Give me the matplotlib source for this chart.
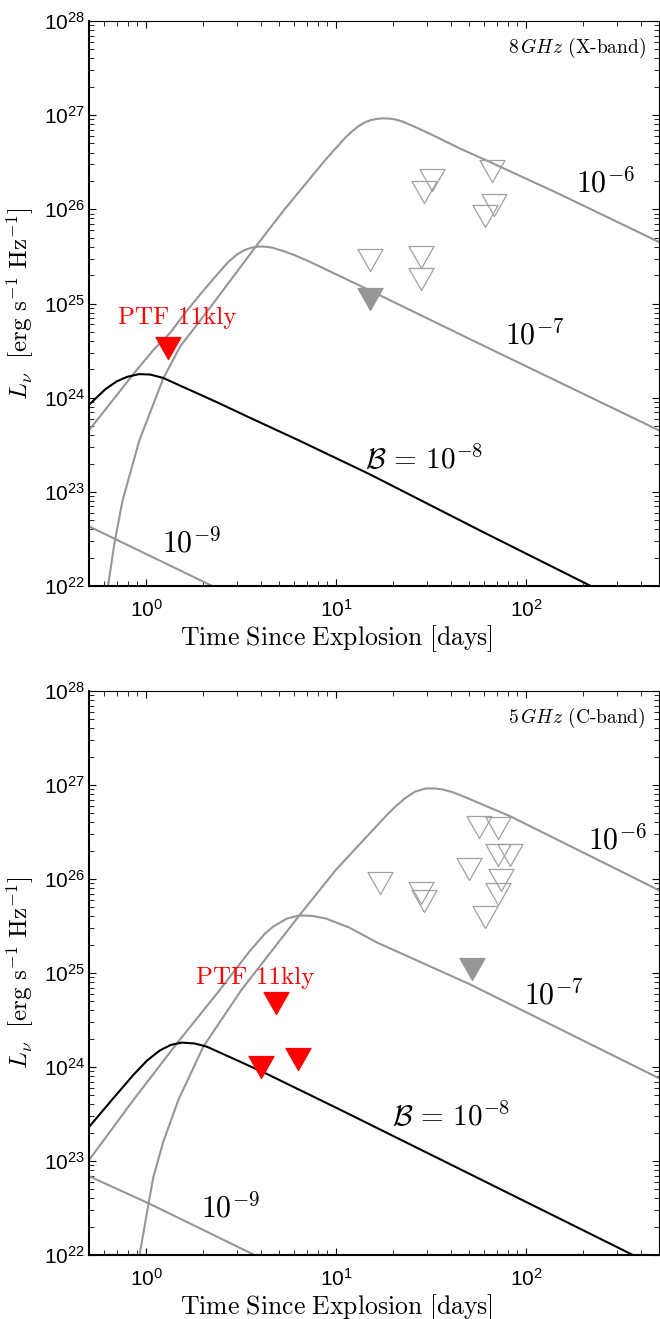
import numpy as np
import matplotlib
matplotlib.use('Agg')
import matplotlib.pyplot as plt
from matplotlib.path import Path
from matplotlib.ticker import LogLocator

plt.rcParams['font.family'] = ['Liberation Sans', 'DejaVu Sans']
plt.rcParams['mathtext.fontset'] = 'cm'

### -------------------- 8 GHz (X-band) panel -------------------- ###
x_b6_t = [0.63, 0.68, 0.75, 0.92, 1.23, 1.51, 2.12, 3.87, 5.35, 8.83, 11.2, 12.3, 13.2, 14.2,
          15.2, 16.3, 17.5, 19.0, 20.5, 22.2, 26.0, 31.9, 44, 63, 150, 500]
x_b6_L = [1e22, 2.8e22, 8e22, 3.5e23, 1.6e24, 3.5e24, 8.5e24, 4.3e25, 1.0e26, 3.4e26, 5.8e26,
          6.9e26, 7.7e26, 8.4e26, 8.85e26, 9.1e26, 9.25e26, 9.2e26, 9.0e26, 8.6e26, 7.5e26,
          6.2e26, 4.5e26, 3.25e26, 1.45e26, 4.5e25]
x_b7_t = [0.5, 0.86, 1.09, 1.34, 1.63, 2.0, 2.4, 2.7, 3.0, 3.3, 3.6, 3.9, 4.2, 4.6, 5.24,
          6.0, 7.2, 15, 53, 500]
x_b7_L = [4.5e23, 1.8e24, 3.2e24, 4.9e24, 8.3e24, 1.37e25, 2.1e25, 2.75e25, 3.3e25, 3.7e25,
          3.92e25, 4.02e25, 4.02e25, 3.92e25, 3.62e25, 3.28e25, 2.8e25, 1.38e25, 4.0e24, 4.5e23]
x_b8_t = [0.5, 0.61, 0.7, 0.79, 0.92, 1.05, 1.23, 1.5, 2.0, 2.4, 3.5, 6.4, 14.9, 60, 219]
x_b8_L = [8.4e23, 1.23e24, 1.49e24, 1.66e24, 1.78e24, 1.76e24, 1.62e24, 1.35e24, 1.04e24,
          8.8e23, 6.15e23, 3.5e23, 1.55e23, 3.7e22, 1e22]
x_b9_t = [0.5, 2.23]
x_b9_L = [4.3e22, 1e22]

x_open_t = [31.9, 29.0, 65.8, 67.7, 60.8, 15.0, 28.1, 28.1]
x_open_L = [2.04e26, 1.52e26, 2.57e26, 1.12e26, 8.5e25, 2.88e25, 3.1e25, 1.8e25]
x_fill_t = [15.0]
x_fill_L = [1.11e25]
x_ptf_t = [1.30]
x_ptf_L = [3.4e24]

### -------------------- 5 GHz (C-band) panel -------------------- ###
c_b6_t = [0.923, 1.03, 1.09, 1.23, 1.48, 2.0, 3.17, 6.4, 9.96, 18.3, 20.5, 23, 26, 29.6, 33,
          36, 41, 48, 60, 81.6, 500]
c_b6_L = [1e22, 3.55e22, 6.7e22, 1.6e23, 4.5e23, 1.65e24, 6.6e24, 4.1e25, 1.25e26, 4.7e26,
          5.9e26, 7.2e26, 8.5e26, 9.2e26, 9.2e26, 9.0e26, 8.4e26, 7.4e26, 6.1e26, 4.7e26, 7.6e25]
c_b7_t = [0.5, 0.859, 1.45, 2.44, 3.5, 4.2, 4.64, 5.5, 6.4, 7.5, 8.83, 11.7, 16.5, 50.5, 500]
c_b7_L = [1.02e23, 4.5e23, 1.78e24, 6.6e24, 1.7e25, 2.6e25, 3.1e25, 3.8e25, 4.1e25, 4.05e25,
          3.8e25, 3.05e25, 2.1e25, 7.6e24, 7.6e23]
c_b8_t = [0.5, 0.674, 0.859, 1.01, 1.18, 1.35, 1.54, 1.8, 2.08, 2.98, 4.29, 10.4, 40, 365]
c_b8_L = [2.3e23, 4.7e23, 8.3e23, 1.17e24, 1.5e24, 1.72e24, 1.82e24, 1.78e24, 1.65e24,
          1.19e24, 8.5e23, 3.55e23, 9.2e22, 1e22]
c_b9_t = [0.5, 1.03, 3.72]
c_b9_L = [6.9e22, 3.55e22, 1e22]

c_open_t = [56.7, 70.8, 70.8, 82.5, 49.9, 73.8, 70.8, 60.8, 17.0, 27.9, 28.9]
c_open_L = [3.6e26, 3.5e26, 1.82e26, 1.82e26, 1.28e26, 9.8e25, 7.0e25, 3.9e25, 9.1e25, 7.1e25, 5.8e25]
c_fill_t = [51.7]
c_fill_L = [1.11e25]
c_ptf_t = [4.8, 4.0, 6.27]
c_ptf_L = [4.8e24, 1.0e24, 1.23e24]

# label positions (data coords)
x_lab = {'b6': (262, 1.9e26), 'b7': (111, 4.6e24), 'b8': (29.2, 2.16e23),
         'b9': (1.73, 2.9e22), 'ptf': (1.45, 7.0e24)}
c_lab = {'b6': (301, 2.63e26), 'b7': (139, 5.8e24), 'b8': (40.1, 2.95e23),
         'b9': (2.79, 3.14e22), 'ptf': (3.76, 8.95e24)}

gray = '#969696'
tri = Path([(-1, 0.88), (1, 0.88), (0, -0.88), (-1, 0.88)], closed=True)


def panel(ax, b6, b7, b8, b9, opn, fil, ptf, lab, band):
	ax.set_xscale('log')
	ax.set_yscale('log')
	ax.plot(b6[0], b6[1], color=gray, lw=1.5, zorder=2)
	ax.plot(b7[0], b7[1], color=gray, lw=1.5, zorder=2)
	ax.plot(b9[0], b9[1], color=gray, lw=1.5, zorder=2)
	ax.plot(b8[0], b8[1], color='k', lw=1.5, zorder=3)
	ax.plot(opn[0], opn[1], ls='none', marker=tri, ms=18, mfc='none', mec='#a0a0a0', mew=0.9, zorder=4)
	ax.plot(fil[0], fil[1], ls='none', marker=tri, ms=18, mfc=gray, mec=gray, mew=0.9, zorder=4)
	ax.plot(ptf[0], ptf[1], ls='none', marker=tri, ms=18, mfc='r', mec='r', mew=0.9, zorder=5)

	ax.text(*lab['b6'], r'$10^{-6}$', fontsize=21.5, ha='center', va='center')
	ax.text(*lab['b7'], r'$10^{-7}$', fontsize=21.5, ha='center', va='center')
	ax.text(*lab['b8'], r'$\mathcal{B}\,=\,10^{-8}$', fontsize=21, ha='center', va='center')
	ax.text(*lab['b9'], r'$10^{-9}$', fontsize=21.5, ha='center', va='center')
	ax.text(*lab['ptf'], 'PTF 11kly', fontsize=18, color='r', ha='center', va='center',
	        family='cmr10')
	ax.text(0.977, 0.952, band, fontsize=14, ha='right', va='center', family='cmr10',
	        transform=ax.transAxes)

	ax.set_xlim(0.5, 500)
	ax.set_ylim(1e22, 1e28)
	ax.xaxis.set_major_locator(LogLocator(base=10, numticks=10))
	ax.xaxis.set_minor_locator(LogLocator(base=10, subs=np.arange(2, 10), numticks=20))
	ax.yaxis.set_major_locator(LogLocator(base=10, numticks=10))
	ax.yaxis.set_minor_locator(LogLocator(base=10, subs=np.arange(2, 10), numticks=20))
	ax.tick_params(which='both', direction='in', top=True, right=True, labelsize=15)
	ax.tick_params(which='major', length=5, width=0.8)
	ax.tick_params(which='minor', length=3.5, width=0.6)
	ax.tick_params(axis='x', pad=9)
	ax.tick_params(axis='y', pad=3)
	for s in ['left', 'bottom']:
		ax.spines[s].set_linewidth(1.5)
	for s in ['top', 'right']:
		ax.spines[s].set_linewidth(0.8)

	ax.set_xlabel(r'$\mathrm{Time\ Since\ Explosion\ [days]}$', fontsize=18.5)
	ax.set_ylabel(r'$L_\nu\ \ \mathrm{[erg\ s^{-1}\ Hz^{-1}]}$', fontsize=18)
	ax.xaxis.set_label_coords(0.435, -0.066)
	ax.yaxis.set_label_coords(-0.093, 0.5)


fig = plt.figure(figsize=(6.6, 13.19), dpi=100)
ax1 = fig.add_axes([0.1348, 0.5557, 0.8636, 0.4284])
ax2 = fig.add_axes([0.1348, 0.0485, 0.8636, 0.4276])

panel(ax1, (x_b6_t, x_b6_L), (x_b7_t, x_b7_L), (x_b8_t, x_b8_L), (x_b9_t, x_b9_L),
      (x_open_t, x_open_L), (x_fill_t, x_fill_L), (x_ptf_t, x_ptf_L), x_lab,
      r'$8\,GHz$ (X-band)')
panel(ax2, (c_b6_t, c_b6_L), (c_b7_t, c_b7_L), (c_b8_t, c_b8_L), (c_b9_t, c_b9_L),
      (c_open_t, c_open_L), (c_fill_t, c_fill_L), (c_ptf_t, c_ptf_L), c_lab,
      r'$5\,GHz$ (C-band)')

fig.savefig('out.png', dpi=100)
plt.close()
